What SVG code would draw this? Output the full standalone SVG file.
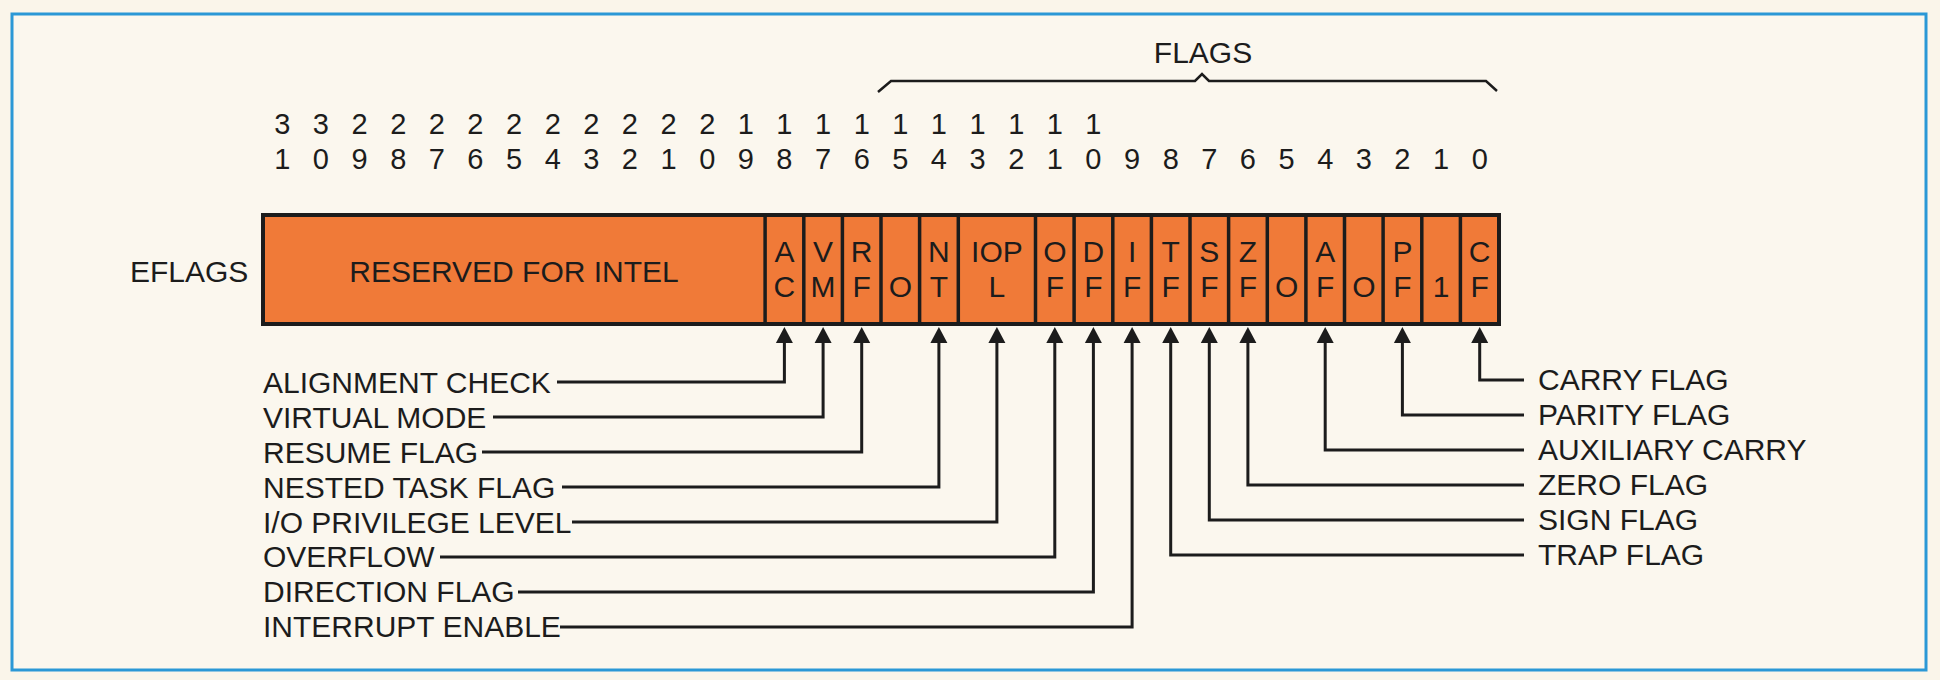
<svg xmlns="http://www.w3.org/2000/svg" width="1940" height="680" viewBox="0 0 1940 680">
<style>
text{font-family:"Liberation Sans",Arial,sans-serif;fill:#1c1c1c}
.lbl{font-size:30px}
.bit{font-size:29px;text-anchor:middle}
.cell{font-size:30px;text-anchor:middle}
.reg{fill:#f07a38;stroke:#1c1c1c;stroke-width:4}
.div{stroke:#1c1c1c;stroke-width:3.5}
.con{fill:none;stroke:#1c1c1c;stroke-width:3;marker-end:url(#arr)}
</style>
<defs>
<marker id="arr" markerUnits="userSpaceOnUse" markerWidth="20" markerHeight="20" refX="0" refY="0" orient="auto" overflow="visible">
<path d="M0,-8.5 L16,0 L0,8.5 Z" fill="#1c1c1c"/>
</marker>
</defs>
<rect x="0" y="0" width="1940" height="680" fill="#faf5ea"/>
<rect x="12" y="14" width="1914" height="656" fill="#fbf7ee" stroke="#2b98d6" stroke-width="3"/>

<g id="flags-brace">
<path d="M878,92 L891,81 L1195,81 L1202,74 L1209,81 L1486,81 L1497,91" fill="none" stroke="#1c1c1c" stroke-width="2.5"/>
<text x="1203" y="63" class="lbl" text-anchor="middle">FLAGS</text>
</g>

<g id="bit-numbers">
<g class="bit">
<text x="282.3" y="134" class="bit">3</text><text x="282.3" y="169" class="bit">1</text>
<text x="320.9" y="134" class="bit">3</text><text x="320.9" y="169" class="bit">0</text>
<text x="359.6" y="134" class="bit">2</text><text x="359.6" y="169" class="bit">9</text>
<text x="398.2" y="134" class="bit">2</text><text x="398.2" y="169" class="bit">8</text>
<text x="436.8" y="134" class="bit">2</text><text x="436.8" y="169" class="bit">7</text>
<text x="475.4" y="134" class="bit">2</text><text x="475.4" y="169" class="bit">6</text>
<text x="514.1" y="134" class="bit">2</text><text x="514.1" y="169" class="bit">5</text>
<text x="552.7" y="134" class="bit">2</text><text x="552.7" y="169" class="bit">4</text>
<text x="591.3" y="134" class="bit">2</text><text x="591.3" y="169" class="bit">3</text>
<text x="629.9" y="134" class="bit">2</text><text x="629.9" y="169" class="bit">2</text>
<text x="668.6" y="134" class="bit">2</text><text x="668.6" y="169" class="bit">1</text>
<text x="707.2" y="134" class="bit">2</text><text x="707.2" y="169" class="bit">0</text>
<text x="745.8" y="134" class="bit">1</text><text x="745.8" y="169" class="bit">9</text>
<text x="784.4" y="134" class="bit">1</text><text x="784.4" y="169" class="bit">8</text>
<text x="823.1" y="134" class="bit">1</text><text x="823.1" y="169" class="bit">7</text>
<text x="861.7" y="134" class="bit">1</text><text x="861.7" y="169" class="bit">6</text>
<text x="900.3" y="134" class="bit">1</text><text x="900.3" y="169" class="bit">5</text>
<text x="938.9" y="134" class="bit">1</text><text x="938.9" y="169" class="bit">4</text>
<text x="977.6" y="134" class="bit">1</text><text x="977.6" y="169" class="bit">3</text>
<text x="1016.2" y="134" class="bit">1</text><text x="1016.2" y="169" class="bit">2</text>
<text x="1054.8" y="134" class="bit">1</text><text x="1054.8" y="169" class="bit">1</text>
<text x="1093.4" y="134" class="bit">1</text><text x="1093.4" y="169" class="bit">0</text>
<text x="1132.1" y="169" class="bit">9</text>
<text x="1170.7" y="169" class="bit">8</text>
<text x="1209.3" y="169" class="bit">7</text>
<text x="1247.9" y="169" class="bit">6</text>
<text x="1286.6" y="169" class="bit">5</text>
<text x="1325.2" y="169" class="bit">4</text>
<text x="1363.8" y="169" class="bit">3</text>
<text x="1402.4" y="169" class="bit">2</text>
<text x="1441.1" y="169" class="bit">1</text>
<text x="1479.7" y="169" class="bit">0</text>
</g>
</g>

<g id="eflags-label">
<text x="130" y="282" class="lbl">EFLAGS</text>
</g>

<g id="register">
<rect x="263" y="215" width="1236" height="109" class="reg"/>
<g class="div">
<line x1="765.1" y1="215" x2="765.1" y2="324"/>
<line x1="803.8" y1="215" x2="803.8" y2="324"/>
<line x1="842.4" y1="215" x2="842.4" y2="324"/>
<line x1="881" y1="215" x2="881" y2="324"/>
<line x1="919.6" y1="215" x2="919.6" y2="324"/>
<line x1="958.3" y1="215" x2="958.3" y2="324"/>
<line x1="1035.5" y1="215" x2="1035.5" y2="324"/>
<line x1="1074.1" y1="215" x2="1074.1" y2="324"/>
<line x1="1112.8" y1="215" x2="1112.8" y2="324"/>
<line x1="1151.4" y1="215" x2="1151.4" y2="324"/>
<line x1="1190" y1="215" x2="1190" y2="324"/>
<line x1="1228.6" y1="215" x2="1228.6" y2="324"/>
<line x1="1267.3" y1="215" x2="1267.3" y2="324"/>
<line x1="1305.9" y1="215" x2="1305.9" y2="324"/>
<line x1="1344.5" y1="215" x2="1344.5" y2="324"/>
<line x1="1383.1" y1="215" x2="1383.1" y2="324"/>
<line x1="1421.8" y1="215" x2="1421.8" y2="324"/>
<line x1="1460.4" y1="215" x2="1460.4" y2="324"/>
</g>
</g>

<g id="cell-reserved"><text x="514" y="282" class="cell">RESERVED FOR INTEL</text></g>
<g id="cell-ac"><text x="784.4" y="262" class="cell">A</text><text x="784.4" y="297" class="cell">C</text></g>
<g id="cell-vm"><text x="823.1" y="262" class="cell">V</text><text x="823.1" y="297" class="cell">M</text></g>
<g id="cell-rf"><text x="861.7" y="262" class="cell">R</text><text x="861.7" y="297" class="cell">F</text></g>
<g id="cell-b15"><text x="900.3" y="297" class="cell">O</text></g>
<g id="cell-nt"><text x="938.9" y="262" class="cell">N</text><text x="938.9" y="297" class="cell">T</text></g>
<g id="cell-iopl"><text x="996.9" y="262" class="cell">IOP</text><text x="996.9" y="297" class="cell">L</text></g>
<g id="cell-of"><text x="1054.8" y="262" class="cell">O</text><text x="1054.8" y="297" class="cell">F</text></g>
<g id="cell-df"><text x="1093.4" y="262" class="cell">D</text><text x="1093.4" y="297" class="cell">F</text></g>
<g id="cell-if"><text x="1132.1" y="262" class="cell">I</text><text x="1132.1" y="297" class="cell">F</text></g>
<g id="cell-tf"><text x="1170.7" y="262" class="cell">T</text><text x="1170.7" y="297" class="cell">F</text></g>
<g id="cell-sf"><text x="1209.3" y="262" class="cell">S</text><text x="1209.3" y="297" class="cell">F</text></g>
<g id="cell-zf"><text x="1247.9" y="262" class="cell">Z</text><text x="1247.9" y="297" class="cell">F</text></g>
<g id="cell-b5"><text x="1286.6" y="297" class="cell">O</text></g>
<g id="cell-af"><text x="1325.2" y="262" class="cell">A</text><text x="1325.2" y="297" class="cell">F</text></g>
<g id="cell-b3"><text x="1363.8" y="297" class="cell">O</text></g>
<g id="cell-pf"><text x="1402.4" y="262" class="cell">P</text><text x="1402.4" y="297" class="cell">F</text></g>
<g id="cell-b1"><text x="1441.1" y="297" class="cell">1</text></g>
<g id="cell-cf"><text x="1479.7" y="262" class="cell">C</text><text x="1479.7" y="297" class="cell">F</text></g>

<g id="label-ac"><text x="263" y="393" class="lbl">ALIGNMENT CHECK</text></g>
<g id="label-vm"><text x="263" y="428" class="lbl">VIRTUAL MODE</text></g>
<g id="label-rf"><text x="263" y="463" class="lbl">RESUME FLAG</text></g>
<g id="label-nt"><text x="263" y="498" class="lbl">NESTED TASK FLAG</text></g>
<g id="label-iopl"><text x="263" y="533" class="lbl">I/O PRIVILEGE LEVEL</text></g>
<g id="label-of"><text x="263" y="567" class="lbl">OVERFLOW</text></g>
<g id="label-df"><text x="263" y="602" class="lbl">DIRECTION FLAG</text></g>
<g id="label-if"><text x="263" y="637" class="lbl">INTERRUPT ENABLE</text></g>

<g id="label-cf"><text x="1538" y="390" class="lbl">CARRY FLAG</text></g>
<g id="label-pf"><text x="1538" y="425" class="lbl">PARITY FLAG</text></g>
<g id="label-af"><text x="1538" y="460" class="lbl">AUXILIARY CARRY</text></g>
<g id="label-zf"><text x="1538" y="495" class="lbl">ZERO FLAG</text></g>
<g id="label-sf"><text x="1538" y="530" class="lbl">SIGN FLAG</text></g>
<g id="label-tf"><text x="1538" y="565" class="lbl">TRAP FLAG</text></g>

<g id="connectors">
<path class="con" d="M557,382 H784.4 V343"/>
<path class="con" d="M493,417 H823.1 V343"/>
<path class="con" d="M482,452 H861.7 V343"/>
<path class="con" d="M562,487 H938.9 V343"/>
<path class="con" d="M572,522 H996.9 V343"/>
<path class="con" d="M440,557 H1054.8 V343"/>
<path class="con" d="M518,592 H1093.4 V343"/>
<path class="con" d="M560,627 H1132.1 V343"/>
<path class="con" d="M1524,555 H1170.7 V343"/>
<path class="con" d="M1524,520 H1209.3 V343"/>
<path class="con" d="M1524,485 H1247.9 V343"/>
<path class="con" d="M1524,450 H1325.2 V343"/>
<path class="con" d="M1524,415 H1402.4 V343"/>
<path class="con" d="M1524,380 H1479.7 V343"/>
</g>
</svg>
